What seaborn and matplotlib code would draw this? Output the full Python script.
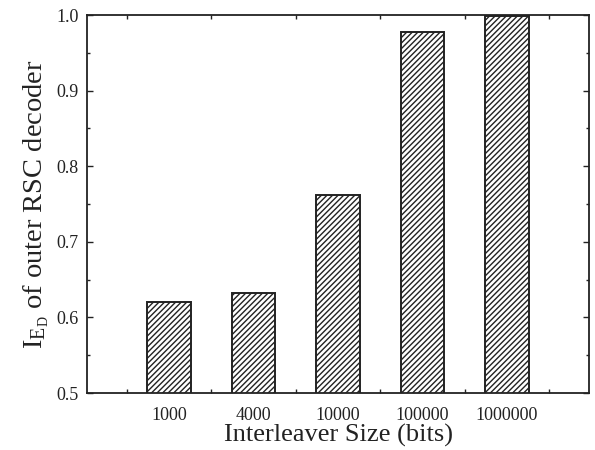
import matplotlib
matplotlib.use("Agg")
import matplotlib.pyplot as plt
import seaborn as sns
import pandas as pd
from matplotlib.ticker import MultipleLocator, FixedLocator

categories = ["1000", "4000", "10000", "100000", "1000000"]
values = [0.621, 0.632, 0.762, 0.978, 0.999]

df = pd.DataFrame({"size": categories, "ied": values})

sns.set_theme(style="ticks")
plt.rcParams["font.family"] = ["Liberation Serif", "DejaVu Serif"]
plt.rcParams["mathtext.fontset"] = "stix"
plt.rcParams["hatch.linewidth"] = 1.0
plt.rcParams["hatch.color"] = "#222222"

fig = plt.figure(figsize=(5.95, 4.5), dpi=100)
ax = fig.add_axes([87/595, 1 - 393/450, (589-87)/595, (393-15)/450])

sns.barplot(data=df, x="size", y="ied", ax=ax, color="white", width=0.52,
            edgecolor="#222222", linewidth=1.4, hatch="//////", errorbar=None)
for p in ax.patches:
    p.set_hatch("//////")
    p.set_facecolor("white")
    p.set_edgecolor("#222222")

ax.set_xlim(-0.97, 4.97)
ax.set_ylim(0.5, 1.0)
ax.yaxis.set_major_locator(MultipleLocator(0.1))
ax.yaxis.set_minor_locator(MultipleLocator(0.05))
ax.xaxis.set_minor_locator(FixedLocator([-0.5, 0.5, 1.5, 2.5, 3.5, 4.5]))
ax.set_yticklabels([f"{v:.1f}" for v in ax.get_yticks()])

ax.tick_params(axis="both", which="both", direction="in", top=True, right=True,
               labelsize=13, colors="#222222")
ax.tick_params(axis="x", which="major", length=0, pad=10)
ax.tick_params(axis="x", which="minor", length=3, width=1)
ax.tick_params(axis="y", which="major", length=4, width=1, pad=6)
ax.tick_params(axis="y", which="minor", length=2, width=1)
for s in ax.spines.values():
    s.set_linewidth(1.3)
    s.set_color("#222222")

ax.set_xlabel("Interleaver Size (bits)", fontsize=19, color="#222222", labelpad=0)
ax.set_ylabel(r"$\mathregular{I_{E_D}}$ of outer RSC decoder", fontsize=20.5, color="#222222", labelpad=4)

fig.savefig("out.png", dpi=100)
